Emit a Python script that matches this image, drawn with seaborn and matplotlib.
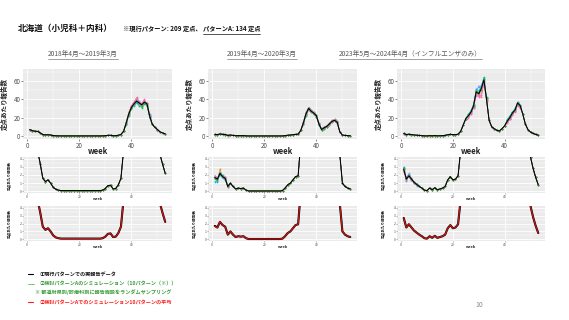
import numpy as np
import pandas as pd
import matplotlib
matplotlib.use('Agg')
import matplotlib.pyplot as plt
import seaborn as sns
from matplotlib.lines import Line2D
from matplotlib.ticker import FixedLocator

# ---------------- data ----------------
weeks = list(range(1, 54))

actual_2018 = [7.0, 5.8, 5.2, 5.0, 3.4, 1.6, 1.2, 1.4, 1.0, 0.5, 0.25, 0.15,
               0.1, 0.1, 0.1, 0.1, 0.1, 0.1, 0.1, 0.1, 0.1, 0.1, 0.1, 0.1, 0.1, 0.1, 0.1, 0.1,
               0.15, 0.35, 0.7, 0.75, 0.3, 0.35, 0.8, 1.6, 5.0, 14.0, 24.0, 31.0, 35.0, 38.0,
               36.0, 34.0, 37.0, 35.0, 22.0, 13.0, 9.5, 7.0, 4.5, 3.3, 2.2]

actual_2019 = [1.7, 1.5, 2.2, 1.8, 1.6, 0.6, 1.0, 0.6, 0.3, 0.4, 0.35, 0.4, 0.15,
               0.05, 0.05, 0.05, 0.05, 0.05, 0.05, 0.05, 0.05, 0.05, 0.05, 0.05, 0.05, 0.05,
               0.1, 0.4, 0.8, 1.0, 1.4, 1.8, 1.9, 6.0, 14.0, 24.0, 30.0, 27.0, 25.0, 22.0,
               13.0, 7.0, 9.0, 10.5, 13.0, 16.0, 17.0, 15.0, 4.5, 1.0, 0.6, 0.4, 0.3]

actual_2023 = [2.7, 1.5, 1.9, 1.5, 1.1, 0.85, 0.6, 0.4, 0.15, 0.1, 0.4, 0.2, 0.45, 0.2,
               0.3, 0.4, 0.6, 1.4, 1.8, 1.4, 1.5, 1.9, 5.0, 12.0, 19.0, 22.0, 26.0, 33.0,
               48.0, 46.0, 52.0, 61.0, 40.0, 17.0, 10.0, 8.0, 6.0, 5.5, 8.0, 11.0, 16.0,
               20.0, 25.0, 28.0, 36.0, 33.0, 24.0, 13.0, 7.0, 4.2, 2.8, 1.7, 0.8]

# simulated patterns (10) - values read where they visibly differ from the actual line
sim_weeks_2018 = [38, 39, 40, 41, 42, 43, 44, 45, 46, 47]
sim_2018 = [
    [15, 25, 33, 37, 42, 37, 35, 39, 36, 23],
    [13, 23, 30, 36, 39, 35, 33, 38, 34, 21],
    [14, 26, 32, 34, 37, 34, 32, 36, 33, 22],
    [12, 22, 29, 33, 36, 33, 31, 35, 33, 20],
    [15, 24, 31, 36, 39, 37, 35, 37, 36, 24],
    [14, 25, 30, 35, 37, 35, 33, 36, 35, 22],
    [13, 23, 32, 36, 40, 34, 34, 38, 34, 21],
    [15, 24, 31, 34, 38, 36, 36, 37, 36, 23],
    [14, 25, 33, 37, 41, 38, 35, 40, 35, 22],
    [13, 24, 30, 35, 38, 36, 33, 36, 34, 21],
]

sim_weeks_2019 = [1, 2, 3, 4, 5, 6, 35, 36, 37, 38, 39, 40, 41, 42, 43, 44, 45, 46, 47, 48]
sim_2019 = [
    [1.8, 1.6, 2.3, 1.9, 1.5, 0.7, 15, 26, 31, 28, 25, 21, 13, 8, 10, 11, 14, 17, 18, 15],
    [1.6, 1.4, 2.7, 1.7, 1.7, 0.6, 13, 23, 29, 26, 24, 22, 12, 7, 9, 10, 13, 15, 16, 14],
    [1.7, 1.5, 2.1, 1.8, 1.6, 0.5, 14, 25, 30, 28, 26, 23, 14, 7, 9, 11, 12, 16, 17, 16],
    [1.9, 1.6, 2.2, 2.0, 1.5, 0.7, 13, 22, 28, 26, 24, 21, 12, 6, 8, 10, 12, 15, 16, 14],
    [1.5, 1.3, 2.0, 1.6, 1.6, 0.6, 15, 24, 31, 27, 25, 23, 14, 8, 9, 11, 13, 16, 18, 15],
    [1.2, 1.2, 2.1, 1.7, 1.4, 0.5, 14, 23, 29, 27, 24, 22, 13, 7, 8, 10, 14, 16, 17, 15],
    [1.8, 1.5, 2.4, 1.9, 1.8, 0.7, 12, 23, 30, 28, 26, 22, 12, 7, 10, 11, 13, 17, 16, 14],
    [1.7, 1.6, 2.2, 1.8, 1.6, 0.6, 15, 25, 29, 26, 25, 21, 13, 8, 9, 10, 12, 15, 17, 16],
    [1.9, 1.5, 2.3, 1.7, 1.7, 0.5, 14, 24, 31, 28, 25, 22, 14, 7, 9, 11, 14, 16, 18, 15],
    [1.6, 1.4, 2.2, 1.8, 1.5, 0.6, 13, 24, 30, 27, 24, 23, 13, 7, 9, 10, 13, 16, 17, 15],
]

sim_weeks_2023 = [1, 2, 3, 4, 5, 6, 26, 27, 28, 29, 30, 31, 32, 33, 41, 42, 43, 44, 45, 46]
sim_2023 = [
    [2.6, 1.6, 1.8, 1.5, 1.2, 0.9, 21, 24, 31, 45, 44, 42, 58, 38, 15, 18, 23, 27, 34, 31],
    [2.8, 1.4, 2.0, 1.6, 1.0, 0.8, 23, 27, 34, 50, 47, 50, 60, 41, 17, 21, 26, 29, 35, 33],
    [2.5, 1.5, 1.9, 1.4, 1.1, 0.9, 22, 25, 32, 47, 45, 53, 62, 39, 15, 19, 24, 27, 37, 32],
    [2.7, 1.7, 2.1, 1.6, 1.2, 0.8, 24, 27, 35, 49, 48, 54, 64, 42, 17, 21, 26, 30, 36, 34],
    [2.9, 1.5, 1.8, 1.5, 1.1, 0.9, 22, 26, 33, 48, 50, 51, 61, 40, 16, 20, 25, 28, 35, 33],
    [3.0, 1.3, 2.0, 1.4, 1.0, 0.7, 23, 28, 34, 51, 53, 55, 63, 41, 18, 22, 26, 29, 37, 34],
    [2.6, 1.6, 2.2, 1.5, 1.2, 0.8, 21, 25, 32, 46, 55, 49, 59, 39, 16, 19, 24, 27, 35, 32],
    [2.7, 1.4, 1.9, 1.6, 1.1, 0.9, 22, 26, 33, 47, 44, 52, 60, 40, 15, 20, 25, 28, 36, 33],
    [2.4, 1.5, 1.8, 1.4, 1.0, 0.8, 20, 24, 31, 44, 43, 45, 57, 38, 14, 18, 23, 26, 33, 31],
    [2.8, 1.6, 1.9, 1.5, 1.1, 0.9, 23, 27, 33, 49, 47, 50, 62, 41, 17, 21, 25, 29, 36, 33],
]

col_titles = ['2018年4月～2019年3月', '2019年4月～2020年3月',
              '2023年5月～2024年4月（インフルエンザのみ）']
ylabel_text = '定点あたり報告数'
sim_palette = ['#F8766D', '#D89000', '#A3A500', '#00BF7D', '#00BFC4',
               '#00B0F6', '#9590FF', '#E76BF3', '#FF62BC', '#39B600']

# ---------------- style ----------------
sns.set_theme(style='darkgrid', rc={'axes.facecolor': '#EBEBEB', 'grid.color': 'white'})
plt.rcParams['font.family'] = ['Noto Sans CJK JP', 'DejaVu Sans']

W, H = 569, 320
fig = plt.figure(figsize=(W / 100, H / 100), dpi=100)
fig.patch.set_facecolor('white')


def add_ax(x0, y0, x1, y1):
    return fig.add_axes([x0 / W, 1 - y1 / H, (x1 - x0) / W, (y1 - y0) / H])


def build_sims(actual, sim_weeks, sims):
    out = []
    for row in sims:
        s = list(actual)
        for wk, v in zip(sim_weeks, row):
            s[wk - 1] = v
        out.append(s)
    return out


def style_ax(ax, kind):
    ax.set_xlim(-1.6, 55.6)
    ax.xaxis.set_major_locator(FixedLocator([0, 20, 40]))
    ax.xaxis.set_minor_locator(FixedLocator([10, 30, 50]))
    if kind == 'top':
        ax.set_ylim(-3.3, 73)
        ax.yaxis.set_major_locator(FixedLocator([0, 20, 40, 60]))
        ax.yaxis.set_minor_locator(FixedLocator([10, 30, 50, 70]))
        fs, tl = 4.5, 1.2
    else:
        ax.set_ylim(-0.2, 4.2)
        ax.yaxis.set_major_locator(FixedLocator([0, 1, 2, 3, 4]))
        ax.yaxis.set_minor_locator(FixedLocator([0.5, 1.5, 2.5, 3.5]))
        fs, tl = 2.4, 0.6
    ax.grid(which='major', color='white', lw=0.6)
    ax.grid(which='minor', color='white', lw=0.3)
    for s in ax.spines.values():
        s.set_visible(False)
    ax.tick_params(which='major', bottom=True, left=True, length=tl, width=0.4,
                   color='#333333', labelsize=fs, labelcolor='#4D4D4D', pad=0.6)
    ax.tick_params(which='minor', length=0)


panels = [
    (actual_2018, sim_weeks_2018, sim_2018, 23, 172),
    (actual_2019, sim_weeks_2019, sim_2019, 208, 357),
    (actual_2023, sim_weeks_2023, sim_2023, 397, 545),
]

for actual, sw, sv, x0, x1 in panels:
    sims = build_sims(actual, sw, sv)
    mean_sim = np.mean(np.array(sims), axis=0)
    df = pd.DataFrame({
        'week': weeks * len(sims),
        'value': np.concatenate(sims),
        'sim': np.repeat(np.arange(len(sims)), len(weeks)),
    })
    for kind, (y0, y1) in [('top', (69, 139)), ('mid', (157, 193)), ('bot', (206, 241))]:
        ax = add_ax(x0, y0, x1, y1)
        if kind in ('top', 'mid'):
            sns.lineplot(data=df, x='week', y='value', hue='sim', palette=sim_palette,
                         estimator=None, errorbar=None, legend=False, ax=ax,
                         lw=0.45, marker='o', markersize=1.2, markeredgewidth=0)
            sns.lineplot(x=weeks, y=actual, color='black', lw=0.75, ax=ax)
        else:
            sns.lineplot(x=weeks, y=actual, color='black', lw=1.5, ax=ax)
            sns.lineplot(x=weeks, y=mean_sim, color='#C01515', lw=0.95, ax=ax)
        style_ax(ax, kind)
        if kind == 'top':
            ax.set_xlabel('week', fontsize=5.5, fontweight='bold', color='#222222')
            ax.xaxis.set_label_coords(0.5, -0.12)
            ax.set_ylabel(ylabel_text, fontsize=4.7, fontweight='bold', color='#222222')
            ax.yaxis.set_label_coords(-0.1, 0.5)
        else:
            ax.set_xlabel('week', fontsize=2.8, fontweight='bold', color='#222222')
            ax.xaxis.set_label_coords(0.5, -0.11)
            ax.set_ylabel(ylabel_text, fontsize=2.6, fontweight='bold', color='#222222')
            ax.yaxis.set_label_coords(-0.075, 0.5)

# ---------------- texts ----------------
renderer = fig.canvas.get_renderer()


def ftext(x, y, s, **kw):
    return fig.text(x / W, 1 - y / H, s, va='center', ha='left', **kw)


def underline(t, color, lw=0.5, off=1.0):
    bb = t.get_window_extent(renderer)
    fig.add_artist(Line2D([bb.x0 / W, bb.x1 / W], [(bb.y0 - off) / H, (bb.y0 - off) / H],
                          transform=fig.transFigure, color=color, lw=lw))


ftext(18, 28, '北海道（小児科＋内科）', fontsize=6.2, fontweight='bold', color='#111111')
t1 = ftext(123, 29, '※現行パターン: 209 定点、', fontsize=4.5, fontweight='bold', color='#111111')
bb1 = t1.get_window_extent(renderer)
t2 = ftext(bb1.x1 + 1, 29, 'パターンA: 134 定点', fontsize=4.5, fontweight='bold', color='#111111')
underline(t2, '#111111', lw=0.5)

for xh, s in zip([48, 227, 339], col_titles):
    th = ftext(xh, 54, s, fontsize=4.8, color='#595959')
    underline(th, '#595959', lw=0.4)

# legend block
fig.add_artist(Line2D([28 / W, 33 / W], [1 - 274.3 / H] * 2, color='black', lw=0.8))
ftext(40, 274.3, '①現行パターンでの実報告データ', fontsize=3.7, fontweight='bold', color='#111111')
fig.add_artist(Line2D([28 / W, 34 / W], [1 - 284.3 / H] * 2, color='#5DB85D', lw=0.6))
ftext(40, 284.3, '②検討パターンAのシミュレーション（10パターン（※））', fontsize=3.7,
      fontweight='bold', color='#3A9D3A')
ftext(35, 292.5, '※ 都道府県別/診療科別に報告施設をランダムサンプリング', fontsize=3.7,
      fontweight='bold', color='#3A9D3A')
fig.add_artist(Line2D([28 / W, 33 / W], [1 - 302.3 / H] * 2, color='#FF1A1A', lw=0.8))
ftext(40, 302.3, '②検討パターンAでのシミュレーション10パターンの平均', fontsize=3.7,
      fontweight='bold', color='#FF1A1A')

fig.text(479 / W, 1 - 305 / H, '10', fontsize=5, color='#8C8C8C', ha='center', va='center')

fig.savefig('out.png', dpi=100, facecolor='white')
